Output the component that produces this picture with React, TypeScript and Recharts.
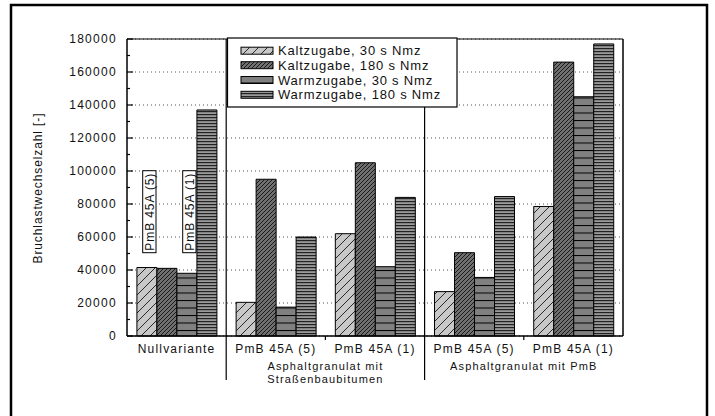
import React from 'react';
import { BarChart, Bar, XAxis, YAxis, CartesianGrid } from 'recharts';

// Versuchsvarianten (x-Achse) und Bruchlastwechselzahlen je Zugabeart
const categories = ['Nullvariante', 'PmB 45A (5)', 'PmB 45A (1)', 'PmB 45A (5)', 'PmB 45A (1)'];
const kalt30 = [41500, 20400, 62000, 26900, 78500];
const kalt180 = [41000, 95000, 105000, 50500, 166000];
const warm30 = [38000, 17500, 42000, 35500, 145000];
const warm180 = [137000, 60000, 84000, 84500, 177000];

const majorTicks = [0, 20000, 40000, 60000, 80000, 100000, 120000, 140000, 160000, 180000];
const allTicks = [0, 10000, 20000, 30000, 40000, 50000, 60000, 70000, 80000, 90000, 100000,
  110000, 120000, 130000, 140000, 150000, 160000, 170000, 180000];

const seriesNames = [
  'Kaltzugabe, 30 s Nmz',
  'Kaltzugabe, 180 s Nmz',
  'Warmzugabe, 30 s Nmz',
  'Warmzugabe, 180 s Nmz',
];
const groupLabels = [
  { lines: ['Asphaltgranulat mit', 'Straßenbaubitumen'], boundary: 2 },
  { lines: ['Asphaltgranulat mit PmB'], boundary: 4 },
];
const boxLabels = ['PmB 45A (5)', 'PmB 45A (1)'];

const data = categories.map((name, i) => ({
  key: `g${i}`,
  name,
  kalt30: kalt30[i],
  kalt180: kalt180[i],
  warm30: warm30[i],
  warm180: warm180[i],
}));

const W = 715;
const H = 416;
const PLOT_LEFT = 127;
const PLOT_RIGHT = 623;
const PLOT_TOP = 39;
const PLOT_BOTTOM = 336;
const AXIS_W = 60;
const XAXIS_H = 44;
const GROUP_W = (PLOT_RIGHT - PLOT_LEFT) / categories.length;
const FONT = '"Liberation Sans", Arial, sans-serif';

const patternIds = ['patKalt30', 'patKalt180', 'patWarm30', 'patWarm180'];

const Patterns = () => (
  <defs>
    <pattern id="patKalt30" patternUnits="userSpaceOnUse" width="9" height="9">
      <rect width="9" height="9" fill="#c8c8c8" />
      <path d="M0,9 L9,0 M-2,2 L2,-2 M7,11 L11,7" stroke="#000" strokeWidth="0.8" />
    </pattern>
    <pattern id="patKalt180" patternUnits="userSpaceOnUse" width="4" height="4">
      <rect width="4" height="4" fill="#707070" />
      <path d="M0,4 L4,0 M-1,1 L1,-1 M3,5 L5,3" stroke="#111" strokeWidth="0.9" />
    </pattern>
    <pattern id="patWarm30" patternUnits="userSpaceOnUse" width="8" height="7.5">
      <rect width="8" height="7.5" fill="#808080" />
      <line x1="0" x2="8" y1="0.5" y2="0.5" stroke="#000" strokeWidth="1" />
    </pattern>
    <pattern id="patWarm180" patternUnits="userSpaceOnUse" width="8" height="3">
      <rect width="8" height="3" fill="#9a9a9a" />
      <line x1="0" x2="8" y1="0.6" y2="0.6" stroke="#222" strokeWidth="1.2" />
    </pattern>
  </defs>
);

const LeftTick = (props: any) => {
  const { y, payload } = props;
  const major = payload.value % 20000 === 0;
  return (
    <g>
      <line x1={PLOT_LEFT} x2={PLOT_LEFT + (major ? 6 : 3)} y1={y} y2={y} stroke="#000" strokeWidth={1.2} />
      {major && (
        <text x={117} y={y + 4} textAnchor="end" fontSize={12} fontFamily={FONT}
          fill="#111" style={{ letterSpacing: '1.3px' }}>
          {payload.value}
        </text>
      )}
    </g>
  );
};

const RightTick = (props: any) => {
  const { y, payload } = props;
  const major = payload.value % 20000 === 0;
  return (
    <g>
      <line x1={PLOT_RIGHT - (major ? 6 : 3)} x2={PLOT_RIGHT} y1={y} y2={y} stroke="#000" strokeWidth={1.2} />
      {major && (
        <text x={633} y={y + 4} textAnchor="start" fontSize={12} fontFamily={FONT}
          fill="#111" style={{ letterSpacing: '1.3px' }}>
          {payload.value}
        </text>
      )}
    </g>
  );
};

const CategoryTick = (props: any) => {
  const { x, payload } = props;
  const idx = Number(String(payload.value).slice(1));
  return (
    <text x={x} y={353} textAnchor="middle" fontSize={12} fontFamily={FONT}
      fill="#111" style={{ letterSpacing: '1.2px' }}>
      {categories[idx]}
    </text>
  );
};

const Overlay = () => {
  const legendX = 227.5;
  const legendY = 38;
  const rowY = [50.7, 65.2, 80, 94.8];
  return (
    <svg width={W} height={H} style={{ position: 'absolute', left: 0, top: 0, pointerEvents: 'none' }}>
      <Patterns />
      {/* outer frame */}
      <rect x={11} y={5} width={696} height={430} fill="none" stroke="#000" strokeWidth={2.5} />
      {/* plot top edge */}
      <line x1={PLOT_LEFT} x2={PLOT_RIGHT} y1={PLOT_TOP} y2={PLOT_TOP} stroke="#000" strokeWidth={1.2} />
      {/* group separators */}
      {[1, 3].map((b) => (
        <line key={b} x1={PLOT_LEFT + GROUP_W * b} x2={PLOT_LEFT + GROUP_W * b}
          y1={PLOT_TOP} y2={380} stroke="#000" strokeWidth={1.2} />
      ))}
      {[2, 4].map((b) => (
        <line key={b} x1={PLOT_LEFT + GROUP_W * b} x2={PLOT_LEFT + GROUP_W * b}
          y1={PLOT_BOTTOM} y2={PLOT_BOTTOM + 4} stroke="#000" strokeWidth={1.2} />
      ))}
      {groupLabels.map((g) =>
        g.lines.map((line, j) => (
          <text key={line} x={PLOT_LEFT + GROUP_W * g.boundary} y={370 + j * 13}
            textAnchor="middle" fontSize={11} fontFamily={FONT} fill="#111"
            style={{ letterSpacing: '1.15px' }}>
            {line}
          </text>
        ))
      )}
      {/* y axis title */}
      <text transform="translate(42,188) rotate(-90)" textAnchor="middle" fontSize={12}
        fontFamily={FONT} fill="#111" style={{ letterSpacing: '0.9px' }}>
        Bruchlastwechselzahl [-]
      </text>
      {/* binder labels in the Nullvariante group */}
      {boxLabels.map((t, i) => {
        const bx = 142.7 + i * 40;
        return (
          <g key={t}>
            <rect x={bx} y={170.7} width={13.3} height={82} fill="#fff" stroke="#000" strokeWidth={1} />
            <text transform={`translate(${bx + 11},${211.7}) rotate(-90)`} textAnchor="middle"
              fontSize={12} fontFamily={FONT} fill="#111" style={{ letterSpacing: '0.9px' }}>
              {t}
            </text>
          </g>
        );
      })}
      {/* legend */}
      <rect x={legendX} y={legendY} width={229.5} height={69} fill="#fff" stroke="#000" strokeWidth={1.2} />
      {seriesNames.map((name, i) => (
        <g key={name}>
          <rect x={241} y={rowY[i] - 3.5} width={32} height={7} fill={`url(#${patternIds[i]})`}
            stroke="#000" strokeWidth={1} />
          <text x={278} y={rowY[i] + 4.6} fontSize={13} fontFamily={FONT} fill="#111"
            style={{ letterSpacing: '0.8px' }}>
            {name}
          </text>
        </g>
      ))}
    </svg>
  );
};

export default function App() {
  return (
    <div style={{ position: 'absolute', left: 0, top: 0, width: W, height: H, background: '#fff' }}>
      <BarChart
        width={W}
        height={H}
        data={data}
        margin={{ top: PLOT_TOP, right: W - PLOT_RIGHT - AXIS_W, left: PLOT_LEFT - AXIS_W, bottom: H - PLOT_BOTTOM - XAXIS_H }}
        barCategoryGap="10%"
        barGap={0}
      >
        <CartesianGrid yAxisId="left" vertical={false} horizontalValues={majorTicks}
          stroke="#555" strokeDasharray="1 3" />
        <XAxis dataKey="key" height={XAXIS_H} tick={<CategoryTick />} tickLine={false}
          axisLine={{ stroke: '#000', strokeWidth: 1.5 }} interval={0} />
        <YAxis yAxisId="left" width={AXIS_W} domain={[0, 180000]} ticks={allTicks} interval={0}
          tick={<LeftTick />} tickLine={false} axisLine={{ stroke: '#000', strokeWidth: 1.5 }} />
        <YAxis yAxisId="right" orientation="right" width={AXIS_W} domain={[0, 180000]} ticks={allTicks}
          interval={0} tick={<RightTick />} tickLine={false} axisLine={{ stroke: '#000', strokeWidth: 1.5 }} />
        <Bar yAxisId="left" dataKey="kalt30" fill="url(#patKalt30)" stroke="#000" strokeWidth={1} isAnimationActive={false} />
        <Bar yAxisId="left" dataKey="kalt180" fill="url(#patKalt180)" stroke="#000" strokeWidth={1} isAnimationActive={false} />
        <Bar yAxisId="left" dataKey="warm30" fill="url(#patWarm30)" stroke="#000" strokeWidth={1} isAnimationActive={false} />
        <Bar yAxisId="left" dataKey="warm180" fill="url(#patWarm180)" stroke="#000" strokeWidth={1} isAnimationActive={false} />
      </BarChart>
      <Overlay />
    </div>
  );
}
